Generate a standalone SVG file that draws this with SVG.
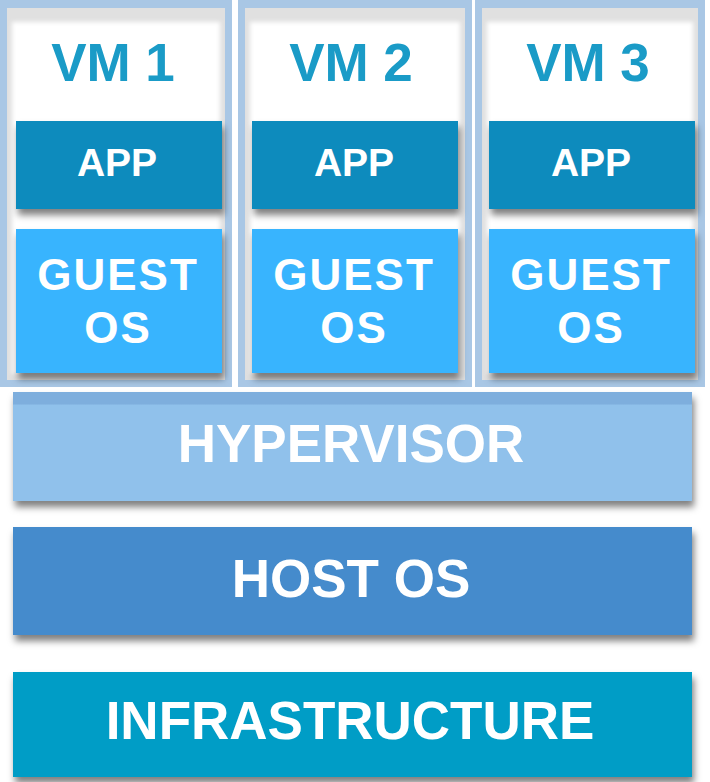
<svg xmlns="http://www.w3.org/2000/svg" width="710" height="782" viewBox="0 0 710 782">
  <defs>
    <filter id="shadow" x="-5%" y="-10%" width="112%" height="135%">
      <feDropShadow dx="2" dy="6" stdDeviation="3.5" flood-color="#000" flood-opacity="0.5"/>
    </filter>
    <filter id="soft" x="-5%" y="-5%" width="110%" height="110%">
      <feGaussianBlur stdDeviation="2"/>
    </filter>
    <linearGradient id="hyperGrad" x1="0" y1="0" x2="0" y2="1">
      <stop offset="0" stop-color="#7eaedd"/>
      <stop offset="0.11" stop-color="#7eaedd"/>
      <stop offset="0.12" stop-color="#90c1eb"/>
      <stop offset="1" stop-color="#90c1eb"/>
    </linearGradient>
  </defs>
  <style>
    .frame { fill: #a9c7e5; }
    .well { fill: #e0e0e0; }
    .paper { fill: #ffffff; }
    .app { fill: #0a8bbd; }
    .guest { fill: #38b4fe; }
    .vmtitle { font-family: "Liberation Sans", Arial, sans-serif; font-weight: bold; font-size: 53px; fill: #1a9bc7; text-anchor: middle; }
    .label { font-family: "Liberation Sans", Arial, sans-serif; font-weight: bold; fill: #ffffff; text-anchor: middle; }
    .app-t { font-size: 39px; }
    .guest-t { font-size: 44px; letter-spacing: 2px; }
    .bar-t { font-size: 53px; }
  </style>

  <rect width="710" height="782" fill="#ffffff"/>

  <!-- virtual machines -->
  <g id="vm1">
    <rect class="frame" x="0" y="0" width="232" height="387"/>
    <rect class="well" x="7" y="8" width="218" height="372"/>
    <rect class="paper" x="12" y="22" width="208" height="352" filter="url(#soft)"/>
    <text class="vmtitle" x="113" y="81">VM 1</text>
    <g id="vm1-app">
      <rect class="app" x="16" y="121" width="206" height="88" filter="url(#shadow)"/>
      <text class="label app-t" x="117" y="176">APP</text>
    </g>
    <g id="vm1-guest">
      <rect class="guest" x="16" y="229" width="206" height="144" filter="url(#shadow)"/>
      <text class="label guest-t" x="118" y="290">GUEST</text>
      <text class="label guest-t" x="118" y="343">OS</text>
    </g>
  </g>

  <g id="vm2">
    <rect class="frame" x="238" y="0" width="234" height="387"/>
    <rect class="well" x="245" y="8" width="220" height="372"/>
    <rect class="paper" x="250" y="22" width="210" height="352" filter="url(#soft)"/>
    <text class="vmtitle" x="351" y="81">VM 2</text>
    <g id="vm2-app">
      <rect class="app" x="252" y="121" width="206" height="88" filter="url(#shadow)"/>
      <text class="label app-t" x="354" y="176">APP</text>
    </g>
    <g id="vm2-guest">
      <rect class="guest" x="252" y="229" width="206" height="144" filter="url(#shadow)"/>
      <text class="label guest-t" x="354" y="290">GUEST</text>
      <text class="label guest-t" x="354" y="343">OS</text>
    </g>
  </g>

  <g id="vm3">
    <rect class="frame" x="475" y="0" width="230" height="387"/>
    <rect class="well" x="482" y="8" width="216" height="372"/>
    <rect class="paper" x="487" y="22" width="206" height="352" filter="url(#soft)"/>
    <text class="vmtitle" x="588" y="81">VM 3</text>
    <g id="vm3-app">
      <rect class="app" x="489" y="121" width="206" height="88" filter="url(#shadow)"/>
      <text class="label app-t" x="591" y="176">APP</text>
    </g>
    <g id="vm3-guest">
      <rect class="guest" x="489" y="229" width="206" height="144" filter="url(#shadow)"/>
      <text class="label guest-t" x="591" y="290">GUEST</text>
      <text class="label guest-t" x="591" y="343">OS</text>
    </g>
  </g>

  <!-- stacked layers -->
  <g id="hypervisor">
    <rect x="13" y="392" width="679" height="109" fill="url(#hyperGrad)" filter="url(#shadow)"/>
    <text class="label bar-t" x="351" y="462">HYPERVISOR</text>
  </g>

  <g id="host-os">
    <rect x="13" y="527" width="679" height="108" fill="#458bcc" filter="url(#shadow)"/>
    <text class="label bar-t" x="351" y="597">HOST OS</text>
  </g>

  <g id="infrastructure">
    <rect x="13" y="672" width="679" height="105" fill="#049dc6" filter="url(#shadow)"/>
    <text class="label bar-t" x="350" y="739">INFRASTRUCTURE</text>
  </g>

  <g id="connectors"/>
</svg>
